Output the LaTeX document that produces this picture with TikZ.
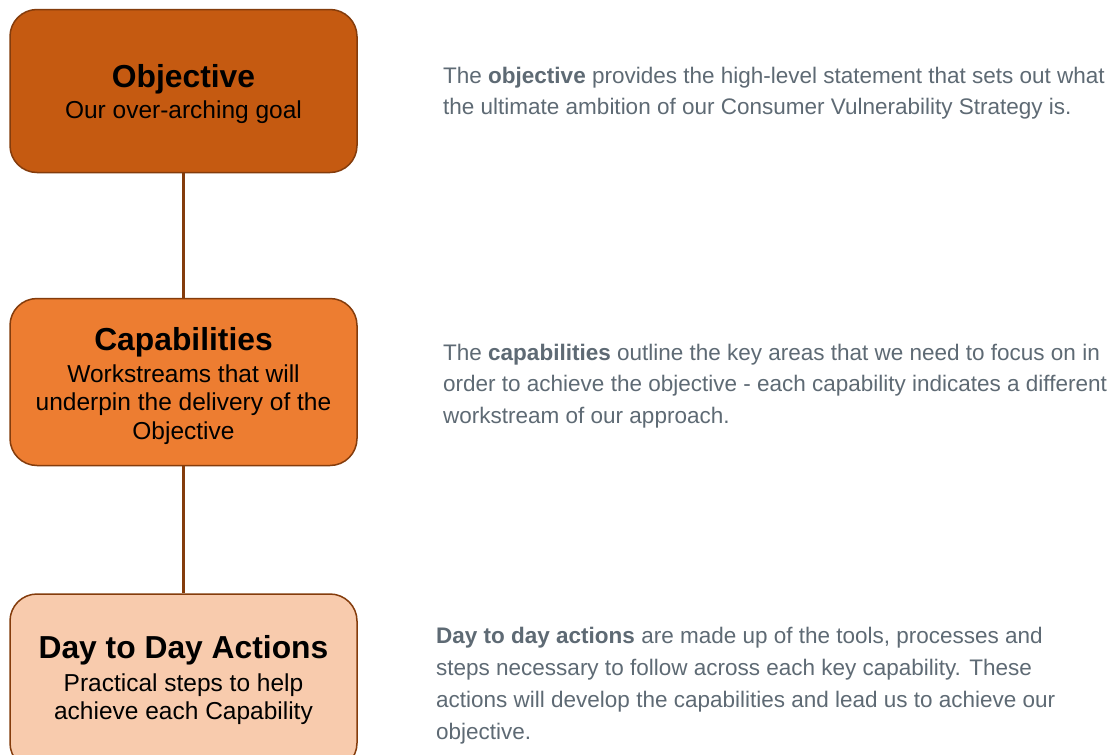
\documentclass[tikz,border=0pt]{standalone}
\usepackage{fontspec}
\setmainfont{Liberation Sans}
\definecolor{objfill}{HTML}{C55A11}
\definecolor{capfill}{HTML}{ED7D31}
\definecolor{dayfill}{HTML}{F8CBAD}
\definecolor{boxline}{HTML}{843C0C}
\definecolor{desc}{HTML}{5E6A74}
\tikzset{
  stagebox/.style={draw=boxline, line width=1.5pt, rounded corners=27pt,
    minimum width=347pt, inner sep=0pt},
  titletext/.style={anchor=base, inner sep=0pt, font=\fontsize{31.8}{36}\selectfont\bfseries, text=black},
  subtext/.style={anchor=base, inner sep=0pt, font=\fontsize{24.5}{29}\selectfont, text=black},
  desctext/.style={anchor=base west, inner sep=0pt, font=\fontsize{22.5}{31.5}\selectfont, text=desc},
  conn/.style={draw=boxline, line width=3.5pt}
}
\begin{document}
\begin{tikzpicture}[x=1pt,y=-1pt]
\useasboundingbox (0,0) rectangle (1112,755);
\clip (0,0) rectangle (1112,755);
\fill[white] (0,0) rectangle (1112,755);

% boxes
\node[stagebox, fill=objfill, minimum height=163pt] (obj) at (183.5,91) {};
\node[stagebox, fill=capfill, minimum height=167pt] (cap) at (183.5,382) {};
\node[stagebox, fill=dayfill, minimum height=176pt] (day) at (183.5,682) {};

% connectors
\draw[conn] (obj.south) -- (cap.north);
\draw[conn] (cap.south) -- (day.north);

% box texts
\node[titletext] (objt) at (183.5,87) {Objective};
\node[subtext] (objs) at (183.5,118) {Our over-arching goal};

\node[titletext] (capt) at (183.5,350) {Capabilities};
\node[subtext] (caps1) at (183.5,382) {Workstreams that will};
\node[subtext] (caps2) at (183.5,410.5) {underpin the delivery of the};
\node[subtext] (caps3) at (183.5,439) {Objective};

\node[titletext] (dayt) at (183.5,658) {Day to Day Actions};
\node[subtext] (days1) at (183.5,691) {Practical steps to help};
\node[subtext] (days2) at (183.5,719) {achieve each Capability};

% descriptions
\node[desctext] (od1) at (443,83) {The \textbf{objective} provides the high-level statement that sets out what};
\node[desctext] (od2) at (443,114.5) {the ultimate ambition of our Consumer Vulnerability Strategy is.};

\node[desctext] (cd1) at (443,360) {The \textbf{capabilities} outline the key areas that we need to focus on in};
\node[desctext] (cd2) at (443,391.5) {order to achieve the objective - each capability indicates a different};
\node[desctext] (cd3) at (443,423) {workstream of our approach.};

\node[desctext] (dd1) at (436,643) {\textbf{Day to day actions} are made up of the tools, processes and};
\node[desctext] (dd2) at (436,675) {steps necessary to follow across each key capability. These};
\node[desctext] (dd3) at (436,707) {actions will develop the capabilities and lead us to achieve our};
\node[desctext] (dd4) at (436,739) {objective.};
\end{tikzpicture}
\end{document}
